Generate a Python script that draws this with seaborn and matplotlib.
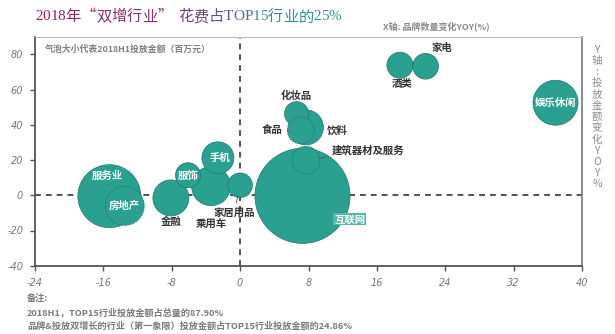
import numpy as np
import pandas as pd
import matplotlib
matplotlib.use("Agg")
import matplotlib.pyplot as plt
import matplotlib.colors as mcolors
import seaborn as sns

# ---------------- data ----------------
industries = ["服务业", "房地产", "金融", "服饰", "乘用车", "手机", "家居用品",
              "互联网", "建筑器材及服务", "化妆品", "食品", "饮料", "酒类", "家电", "娱乐休闲"]
brand_yoy = [-15.3, -13.5, -8.1, -6.1, -3.4, -2.6, 0.0,
             7.3, 7.7, 6.6, 7.1, 7.7, 18.7, 21.7, 36.9]
spend_yoy = [-0.5, -6.0, -1.5, 11.4, 5.2, 21.3, 5.7,
             -0.3, 19.9, 46.4, 36.9, 38.6, 73.9, 73.3, 52.6]
spend_2018h1 = [992, 380, 324, 156, 380, 256, 151,
                2260, 196, 144, 182, 306, 170, 165, 506]
dashed_edge = ["房地产", "食品", "建筑器材及服务"]
inside_labels = ["服务业", "房地产", "服饰", "手机", "互联网", "娱乐休闲"]

x_ticks = [-24, -16, -8, 0, 8, 16, 24, 32, 40]
y_ticks = [-40, -20, 0, 20, 40, 60, 80]

title_text = "2018年“双增行业” 花费占TOP15行业的25%"
x_axis_title = "X轴: 品牌数量变化YOY(%)"
y_axis_title = "Y轴:投放金额变化YOY%"
size_note = "气泡大小代表2018H1投放金额（百万元）"
notes = ["备注:",
         "2018H1，TOP15行业投放金额占总量的87.90%",
         "品牌&投放双增长的行业（第一象限）投放金额占TOP15行业投放金额的24.86%"]

df = pd.DataFrame({"industry": industries, "x": brand_yoy, "y": spend_yoy,
                   "spend": spend_2018h1})
df["dashed"] = df["industry"].isin(dashed_edge)

# ---------------- style ----------------
sns.set_style("white")
plt.rcParams["font.family"] = ["Noto Sans CJK SC", "DejaVu Sans"]

DPI = 100
fig = plt.figure(figsize=(6.15, 3.34), dpi=DPI)
ax = fig.add_axes([35 / 615, 1 - 265.7 / 334, (582 - 35) / 615, (265.7 - 36.9) / 334])

TEAL = "#2aa190"
EDGE = "#1f7468"
px2pt = 72 / DPI
vmax = max(spend_2018h1)
smax = (2 * px2pt) ** 2 * vmax  # spend ~ radius_px^2

solid = df[~df["dashed"]].sort_values("spend", ascending=False)
dashed = df[df["dashed"]]
common = dict(x="x", y="y", size="spend", sizes=(0, smax), size_norm=(0, vmax),
              color=TEAL, legend=False, ax=ax, zorder=3)
sns.scatterplot(data=solid, edgecolor=EDGE, linewidth=0.5, alpha=1, **common)
sns.scatterplot(data=dashed, edgecolor=EDGE, linewidth=0.6, linestyle=(0, (2, 1.5)), **common)

ax.axhline(0, color="#333333", lw=1.2, ls=(0, (3.5, 3)), zorder=2)
ax.axvline(0, color="#333333", lw=1.2, ls=(0, (3.5, 3)), zorder=2)

ax.set_xlim(-24, 40)
ax.set_ylim(-40, 90)
ax.set_xticks(x_ticks)
ax.set_yticks(y_ticks)
ax.set_xticklabels([str(v) for v in x_ticks])
ax.set_yticklabels([str(v) for v in y_ticks])
ax.set_xlabel("")
ax.set_ylabel("")
for lab in ax.get_xticklabels() + ax.get_yticklabels():
    lab.set_fontstyle("italic")
    lab.set_family("DejaVu Sans")
    lab.set_color("#777777")
    lab.set_fontsize(7)
ax.tick_params(axis="both", direction="out", length=3.5, width=1, color="#555555",
               bottom=True, left=True)
ax.tick_params(axis="x", pad=5)
ax.tick_params(axis="y", pad=5)
for side in ["left", "bottom"]:
    ax.spines[side].set_color("#555555")
    ax.spines[side].set_linewidth(1.3)
ax.spines["right"].set_color("#777777")
ax.spines["right"].set_linewidth(1.2)
ax.spines["top"].set_color("#bbbbbb")
ax.spines["top"].set_linewidth(0.8)

# ---------------- labels ----------------
label_offsets = {  # offset (points) of label from bubble centre, leader?
    "服务业": ((-1.4, 15), False),
    "房地产": ((0, 0), False),
    "金融": ((0, -17.5), False),
    "服饰": ((0, 0), False),
    "乘用车": ((0, -27), False),
    "手机": ((1.5, 0), False),
    "家居用品": ((-4.3, -20), True),
    "互联网": ((34, -17), False),
    "建筑器材及服务": ((44.6, 7.2), True),
    "化妆品": ((0, 12.5), False),
    "食品": ((-20.5, 0), True),
    "饮料": ((22.7, -2), False),
    "酒类": ((1.2, -13.2), False),
    "家电": ((12, 13.5), True),
    "娱乐休闲": ((0, 0), False),
}
for _, row in df.iterrows():
    name = row["industry"]
    (ox, oy), leader = label_offsets[name]
    white = name in inside_labels
    r_pt = np.sqrt(row["spend"]) * px2pt
    kw = dict(xy=(row["x"], row["y"]), xytext=(ox, oy), textcoords="offset points",
              ha="center", va="center", fontsize=7.5, fontweight="bold",
              color="white" if white else "#333333", zorder=5)
    if name == "互联网":
        kw["bbox"] = dict(boxstyle="square,pad=0.1", fc="#55b8a9", ec="none")
    if leader:
        kw["arrowprops"] = dict(arrowstyle="-", color="#555555", lw=0.6,
                                shrinkA=1, shrinkB=r_pt - 1)
    ax.annotate(name, **kw)

# ---------------- figure texts ----------------
fig.text(45 / 615, 1 - 49 / 334, size_note, fontsize=6.4, color="#808080",
         fontweight="bold", ha="left", va="center")
fig.text(490 / 615, 1 - 26.7 / 334, x_axis_title, fontsize=6.5, color="#8a8a8a",
         fontweight="bold", fontstyle="italic", ha="right", va="center")
fig.text(597 / 615, 1 - 117 / 334, "\n".join(list(y_axis_title)), fontsize=7.5,
         color="#8a8a8a", fontstyle="italic", ha="center", va="center", linespacing=1.15)
for i, (t, yy) in enumerate(zip(notes, [298, 312, 326])):
    fig.text(27 / 615, 1 - yy / 334, t, fontsize=6.6, color="#7a7a7a",
             fontweight="bold", fontstyle="italic", ha="left", va="center")

# gradient title
cmap = mcolors.LinearSegmentedColormap.from_list(
    "t", ["#a3195b", "#8a2a6c", "#6a4080", "#3d8a8c", "#2a9a8c"])
renderer = fig.canvas.get_renderer()
xpos = 35 / 615
n = len(title_text)
for i, ch in enumerate(title_text):
    fam = ["Liberation Serif"] if ord(ch) < 128 else ["Noto Sans CJK SC"]
    if ch == " ":
        xpos += 6 / 615
        continue
    t = fig.text(xpos, 1 - 17 / 334, ch, fontsize=11, color=cmap(i / (n - 1)),
                 family=fam, ha="left", va="center")
    bb = t.get_window_extent(renderer)
    xpos += bb.width / fig.bbox.width

fig.savefig("out.png", dpi=DPI)
